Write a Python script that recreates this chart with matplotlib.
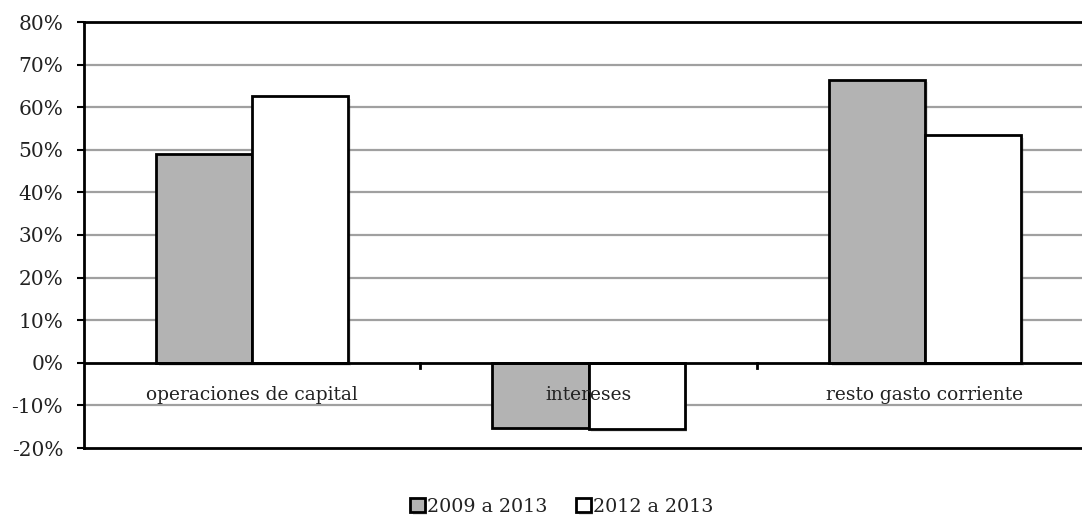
import matplotlib
matplotlib.use("Agg")
import matplotlib.pyplot as plt
import matplotlib.patheffects as pe
from matplotlib.ticker import FuncFormatter
import numpy as np

# data
categories = ["operaciones de capital", "intereses", "resto gasto corriente"]
series_names = ["2009 a 2013", "2012 a 2013"]
v_2009_2013 = [49.1, -15.2, 66.5]
v_2012_2013 = [62.6, -15.5, 53.4]
y_ticks = [-20, -10, 0, 10, 20, 30, 40, 50, 60, 70, 80]

plt.rcParams["font.family"] = ["DejaVu Serif"]

fig = plt.figure(figsize=(10.82, 5.18), dpi=100)
ax = fig.add_axes([84 / 1082, 1 - 448 / 518, (1093 - 84) / 1082, (448 - 22) / 518])

x = np.arange(len(categories))
w = 1 / 3.5  # Excel default gap width 150%

shadow = [pe.SimplePatchShadow(offset=(2, -2), alpha=0.15), pe.Normal()]
b1 = ax.bar(x - w / 2, v_2009_2013, w, color="#b3b3b3", edgecolor="black", linewidth=2,
            label=series_names[0], zorder=3)
b2 = ax.bar(x + w / 2, v_2012_2013, w, color="white", edgecolor="black", linewidth=2,
            label=series_names[1], zorder=3)
for p in list(b1) + list(b2):
    p.set_path_effects(shadow)

ax.set_xlim(-0.5, len(categories) - 0.5)
ax.set_ylim(-20, 80)
ax.set_yticks(y_ticks)
ax.yaxis.set_major_formatter(FuncFormatter(lambda v, p: f"{v:.0f}%"))
ax.tick_params(axis="y", direction="out", length=5, width=1.5, labelsize=14.5,
               colors="black", pad=10)
ax.tick_params(axis="y", labelcolor="#222222")

# gridlines (gray) except the zero line, which is black
for t in y_ticks:
    if t in (-20, 0, 80):
        continue
    ax.axhline(t, color="#a0a0a0", linewidth=1.6, zorder=1)
ax.axhline(0, color="black", linewidth=2, zorder=4)

# category tick marks on the zero line
ax.set_xticks([])
for b in [0.5, 1.5]:
    ax.plot([b, b], [0, -1.3], color="black", linewidth=2, zorder=4, clip_on=False)

for i, c in enumerate(categories):
    ax.text(x[i], -7.5, c, ha="center", va="center", fontsize=13.4, color="#222222", zorder=5)

for s in ["left", "top", "bottom"]:
    ax.spines[s].set_linewidth(2)
ax.spines["right"].set_visible(False)

leg = fig.legend(loc="center", bbox_to_anchor=(562 / 1082, 1 - 507 / 518), ncol=2,
                 frameon=False, fontsize=13.7, handlelength=0.75, handleheight=0.75,
                 handletextpad=0.15, columnspacing=1.5)
for t in leg.get_texts():
    t.set_color("#222222")

fig.savefig("out.png", dpi=100)
